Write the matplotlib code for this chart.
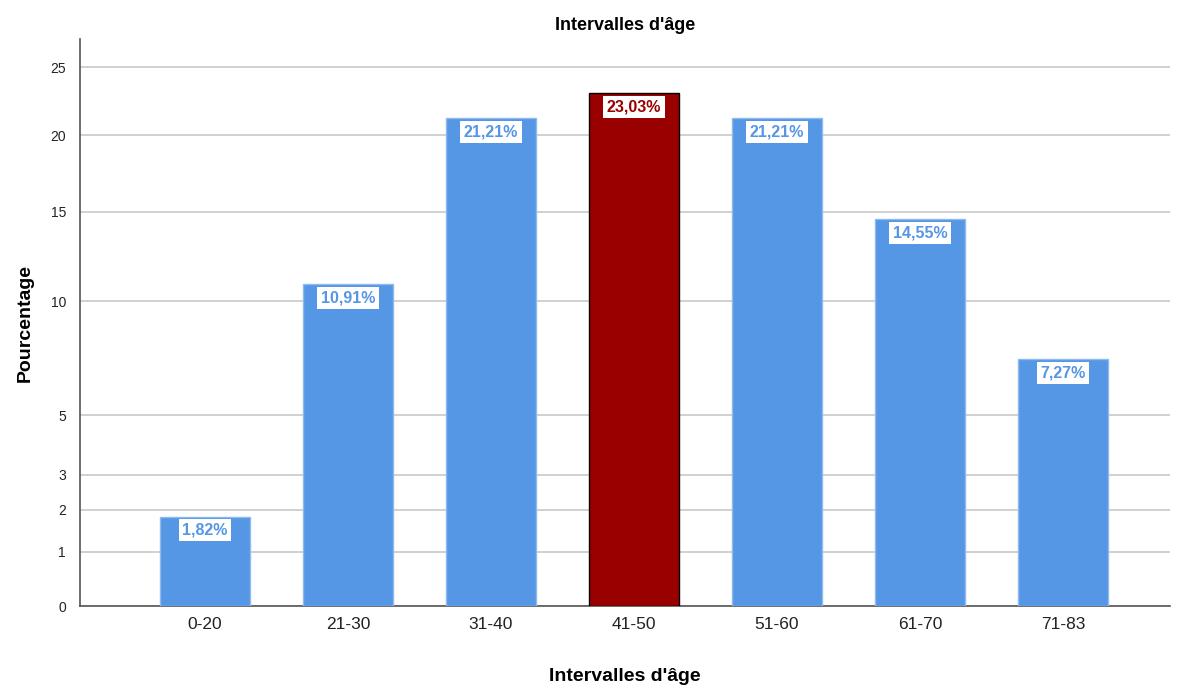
import matplotlib.pyplot as plt
import numpy as np

plt.rcParams['font.family'] = ['Liberation Sans', 'DejaVu Sans']

# Data
categories = ['0-20', '21-30', '31-40', '41-50', '51-60', '61-70', '71-83']
percentages = [1.82, 10.91, 21.21, 23.03, 21.21, 14.55, 7.27]
labels = ['1,82%', '10,91%', '21,21%', '23,03%', '21,21%', '14,55%', '7,27%']
y_ticks = [0, 1, 2, 3, 5, 10, 15, 20, 25]

blue = '#5596e5'
red = '#990000'
colors = [red if p == max(percentages) else blue for p in percentages]
edges = ['black' if c == red else '#8fbaf0' for c in colors]


def forward(v):
    return np.sqrt(np.maximum(np.asarray(v, dtype=float) + 1, 0))


def inverse(v):
    return np.asarray(v, dtype=float) ** 2 - 1


fig = plt.figure(figsize=(11.85, 6.86), dpi=100)
ax = fig.add_axes([0.0675, 0.1166, 0.92, 0.826])
ax.set_yscale('function', functions=(forward, inverse))

x = np.arange(len(categories))
ax.bar(x, percentages, width=0.63, color=colors, edgecolor=edges, linewidth=1, zorder=3)

for xi, p, lab, c in zip(x, percentages, labels, colors):
    ax.annotate(lab, (xi, p), xytext=(0, -4.5), textcoords='offset points',
                ha='center', va='top', fontsize=11.5, fontweight='bold', color=c,
                bbox=dict(facecolor='white', edgecolor='none', pad=2.5), zorder=4)

ax.set_ylim(0, 27.2)
ax.set_xlim(-0.874, 6.75)
ax.set_yticks(y_ticks)
ax.set_yticklabels([str(t) for t in y_ticks])
ax.yaxis.set_minor_locator(plt.NullLocator())
ax.set_xticks(x)
ax.set_xticklabels(categories)
ax.tick_params(axis='x', length=0, labelsize=12.5, pad=8, colors='#222222')
ax.tick_params(axis='y', length=0, labelsize=10, pad=10, colors='#222222')
ax.grid(axis='y', color='#c8c8c8', linewidth=1.2, zorder=0)

for s in ['top', 'right']:
    ax.spines[s].set_visible(False)
for s in ['left', 'bottom']:
    ax.spines[s].set_color('#555555')
    ax.spines[s].set_linewidth(1.2)

ax.set_title("Intervalles d'âge", fontsize=13, fontweight='bold', pad=7)
ax.set_xlabel("Intervalles d'âge", fontsize=14, fontweight='bold', labelpad=26)
ax.set_ylabel('Pourcentage', fontsize=14, fontweight='bold', labelpad=12)

fig.savefig('out.png', dpi=100)
